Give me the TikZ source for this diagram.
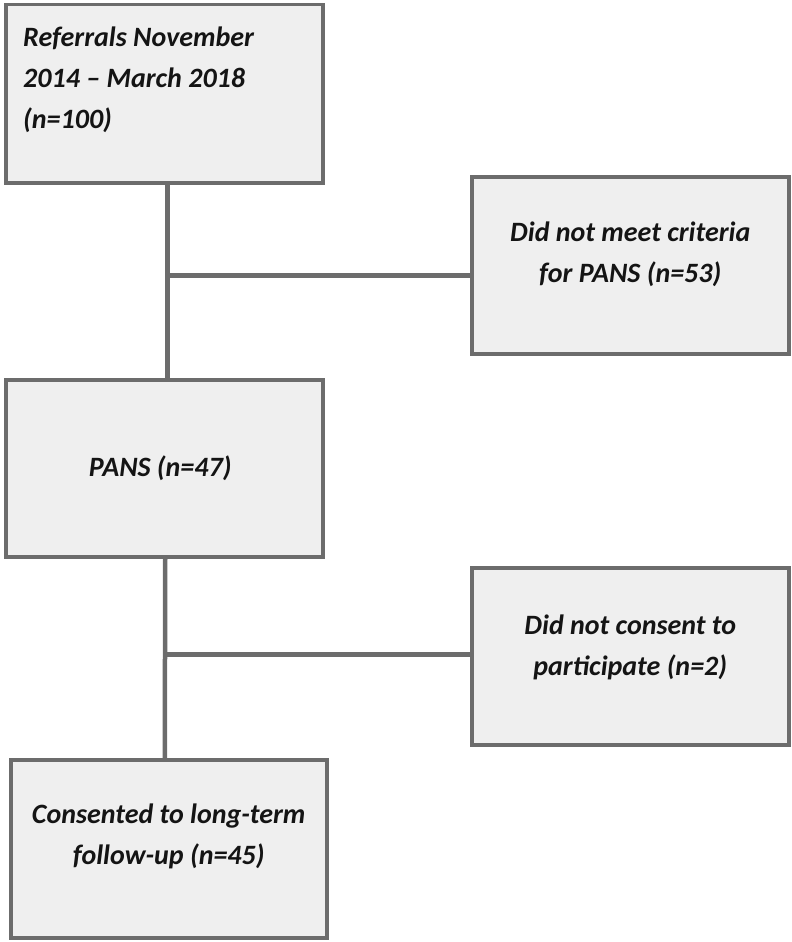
\documentclass[tikz,border=0pt]{standalone}
\usepackage{fontspec}
\setmainfont{Carlito}
\usetikzlibrary{calc}
\definecolor{edge}{RGB}{108,108,108}
\definecolor{boxfill}{RGB}{239,239,239}
\definecolor{ink}{RGB}{20,20,20}
\tikzset{
  flowbox/.style={draw=edge, line width=3.5pt, fill=boxfill, rectangle, inner sep=0pt, anchor=north west},
  boxtext/.style={text=ink, font=\fontsize{28}{41}\selectfont\bfseries\itshape, inner sep=0pt},
  conn/.style={draw=edge, line width=4.5pt}
}
\begin{document}
\begin{tikzpicture}[x=1pt,y=-1pt]
\useasboundingbox (0,0) rectangle (792,942);
% boxes
\node[flowbox, minimum width=317pt, minimum height=178pt] (b1) at (4,3) {};
\node[flowbox, minimum width=317pt, minimum height=177pt] (b2) at (470,175) {};
\node[flowbox, minimum width=317pt, minimum height=177pt] (b3) at (4,378) {};
\node[flowbox, minimum width=317pt, minimum height=177pt] (b4) at (470,566) {};
\node[flowbox, minimum width=316pt, minimum height=178pt] (b5) at (9,758) {};
% texts
\node[boxtext, anchor=north west, align=left] (t1) at (23,27) {Referrals November\\2014 – March 2018\\(n=100)};
\node[boxtext, align=center] (t2) at ($(b2.center)+(0,-11)$) {Did not meet criteria\\for PANS (n=53)};
\node[boxtext, align=center] (t3) at ($(b3.center)+(-4,0)$) {PANS (n=47)};
\node[boxtext, align=center] (t4) at ($(b4.center)+(0,-9)$) {Did not consent to\\participate (n=2)};
\node[boxtext, align=center] (t5) at ($(b5.center)+(0,-12)$) {Consented to long-term\\follow-up (n=45)};
% connectors
\coordinate (j1) at ($(b1.south)+(3,91)$);
\coordinate (j2) at ($(b3.south)+(1,96)$);
\draw[conn] ($(b1.south)+(3,0)$) -- ($(b3.north)+(3,0)$);
\draw[conn] (j1) -- (j1 -| b2.west);
\draw[conn] ($(b3.south)+(1,0)$) -- ($(b5.north)+(-4,0)$);
\draw[conn] (j2) -- (j2 -| b4.west);
\end{tikzpicture}
\end{document}
